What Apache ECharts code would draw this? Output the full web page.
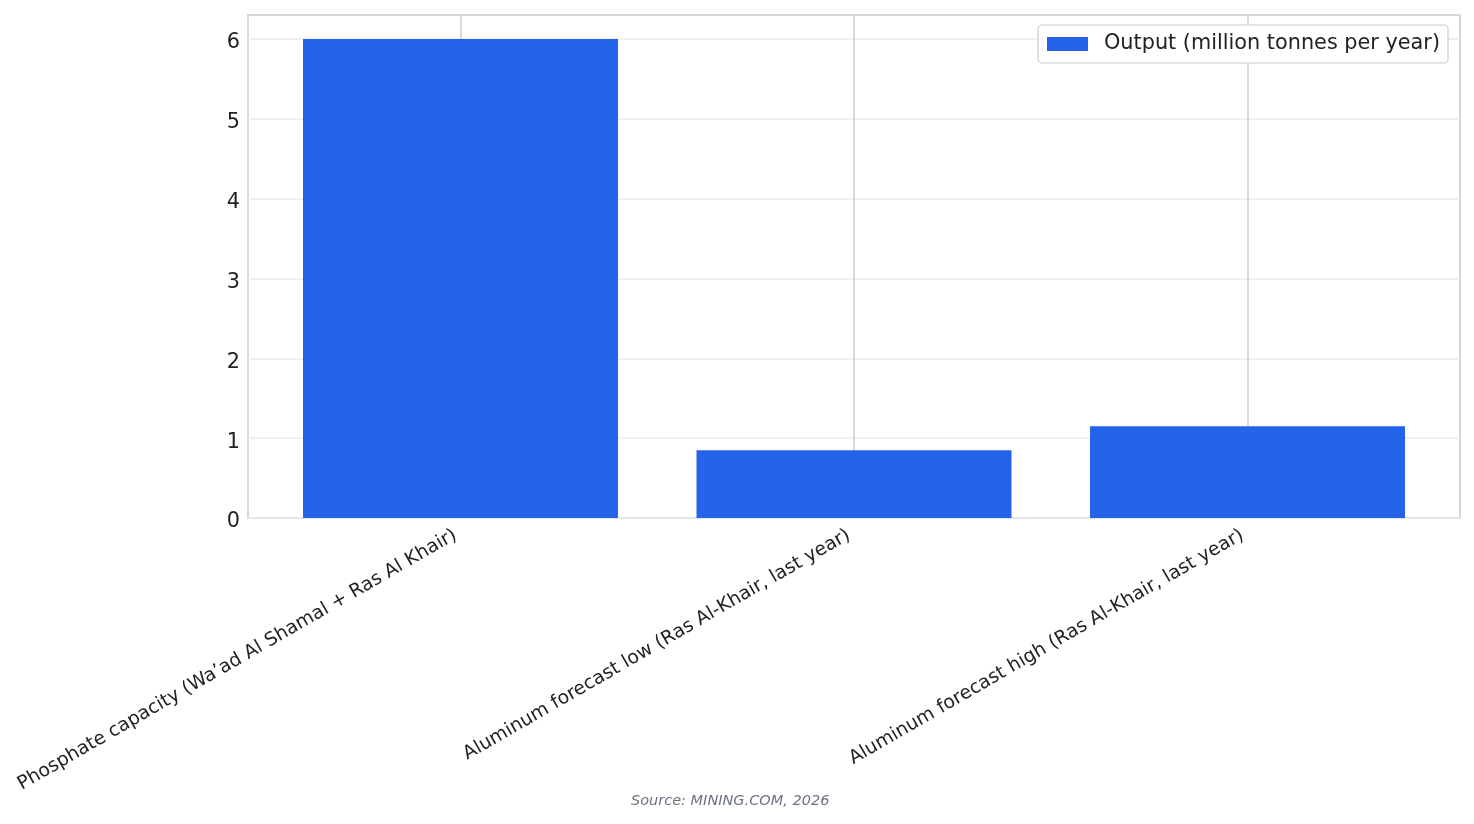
<!DOCTYPE html>
<html>
<head>
<meta charset="utf-8">
<script src="https://cdn.jsdelivr.net/npm/echarts@6/dist/echarts.min.js"></script>
<style>
html,body{margin:0;padding:0;background:#fff;}
#chart{width:1474px;height:824px;}
</style>
</head>
<body>
<div id="chart"></div>
<script>
const categories = [
  "Phosphate capacity (Wa\u2019ad Al Shamal + Ras Al Khair)",
  "Aluminum forecast low (Ras Al-Khair, last year)",
  "Aluminum forecast high (Ras Al-Khair, last year)"
];
const outputValues = [6.0, 0.85, 1.15];
const yTicks = [0, 1, 2, 3, 4, 5, 6];
const seriesName = "Output (million tonnes per year)";
const sourceText = "Source: MINING.COM, 2026";

const FONT = "DejaVu Sans";
const chart = echarts.init(document.getElementById('chart'), null, {renderer: 'canvas'});
const positions = categories.map((c, i) => i);

chart.setOption({
  animation: false,
  backgroundColor: '#ffffff',
  textStyle: {fontFamily: FONT},
  title: {
    text: sourceText,
    left: 631,
    top: 794,
    padding: 0,
    textStyle: {fontFamily: FONT, fontSize: 14.5, fontStyle: 'italic', fontWeight: 'normal', color: '#6b7280'}
  },
  grid: {
    left: 248, right: 14, top: 15, bottom: 306,
    show: true, borderColor: '#cccccc', borderWidth: 1.5, backgroundColor: 'transparent',
    containLabel: false
  },
  legend: {
    data: [seriesName],
    right: 26, top: 25,
    orient: 'horizontal',
    itemWidth: 41, itemHeight: 14,
    padding: [6, 8, 6, 9],
    borderColor: '#cccccc', borderWidth: 1.2, borderRadius: 4,
    backgroundColor: '#ffffff',
    icon: 'rect',
    textStyle: {fontFamily: FONT, fontSize: 20.8, lineHeight: 24, color: '#222222', padding: [2, 0, 0, 11]}
  },
  xAxis: {
    type: 'value',
    min: -0.54, max: 2.54,
    axisLine: {show: false},
    axisTick: {show: false, customValues: positions},
    axisLabel: {
      customValues: positions,
      rotate: 30,
      margin: 13,
      padding: [0, 6, 0, 0],
      fontFamily: FONT, fontSize: 18.8, color: '#222222',
      formatter: v => categories[Math.round(v)] || ''
    },
    splitLine: {show: true, lineStyle: {color: '#cccccc', width: 1.5}}
  },
  yAxis: {
    type: 'value',
    min: 0, max: 6.3,
    axisLine: {show: false},
    axisTick: {show: false, customValues: yTicks},
    axisLabel: {
      customValues: yTicks, margin: 8,
      formatter: v => '{t|' + v + '}',
      rich: {t: {fontFamily: FONT, fontSize: 20.8, color: '#222222', padding: [8, 0, 0, 0]}}
    },
    splitLine: {show: true, lineStyle: {color: '#ebebeb', width: 1.5}}
  },
  series: [{
    name: seriesName,
    type: 'bar',
    data: positions.map((p, i) => [p, outputValues[i]]),
    barWidth: 315,
    itemStyle: {color: '#2563eb'}
  }]
});
</script>
</body>
</html>
